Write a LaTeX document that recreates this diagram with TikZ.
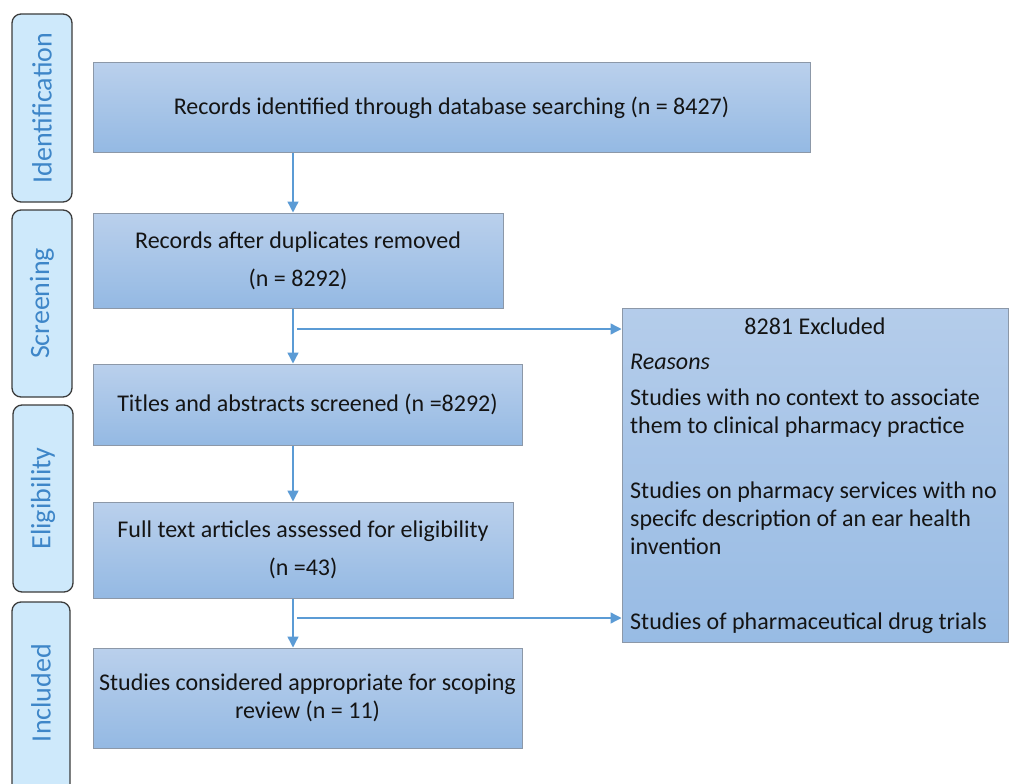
\documentclass[tikz,border=0pt]{standalone}
\usepackage{fontspec}
\setmainfont{Carlito}
\usetikzlibrary{arrows.meta,calc}
\definecolor{boxtop}{RGB}{186,208,236}
\definecolor{boxbot}{RGB}{148,185,227}
\definecolor{boxline}{RGB}{140,152,168}
\definecolor{sidefill}{RGB}{206,233,251}
\definecolor{sideline}{RGB}{60,60,60}
\definecolor{sidetext}{RGB}{62,134,200}
\definecolor{arrowblue}{RGB}{91,155,213}
\definecolor{txt}{RGB}{20,20,20}
\tikzset{
  flowbox/.style={draw=boxline, line width=1pt, rectangle, top color=boxtop, bottom color=boxbot,
     text=txt, align=center, inner sep=0pt, font=\fontsize{24}{28}\selectfont},
  exbox/.style={draw=boxline, line width=1pt, rectangle, top color=boxtop!85!boxbot, bottom color=boxbot!90!boxtop,
     inner sep=0pt},
  extext/.style={anchor=west, text=txt, inner sep=0pt, font=\fontsize{24}{28}\selectfont},
  sidebox/.style={draw=sideline, line width=1.3pt, fill=sidefill, rounded corners=9pt, rectangle, inner sep=0pt},
  sidelabel/.style={text=sidetext, rotate=90, font=\fontsize{28}{32}\selectfont, inner sep=0pt},
  arr/.style={draw=arrowblue, line width=1.4pt, -{Triangle[length=11pt,width=11pt]}},
}
\begin{document}
\begin{tikzpicture}[x=1pt,y=-1pt]
\useasboundingbox (0,0) rectangle (1010,784);
\fill[white] (0,0) rectangle (1010,784);

% side stage boxes
\node[sidebox, minimum width=60pt, minimum height=188pt] (sid) at (42,108) {};
\node[sidelabel] (lid) at (sid.center) {Identification};
\node[sidebox, minimum width=60pt, minimum height=187pt] (ssc) at (42,303.5) {};
\node[sidelabel] (lsc) at (ssc.center) {Screening};
\node[sidebox, minimum width=60pt, minimum height=187pt] (sel) at (43,498.5) {};
\node[sidelabel] (lel) at (sel.center) {Eligibility};
\begin{scope}
\clip (0,590) rectangle (120,784);
\node[sidebox, minimum width=58pt, minimum height=200pt] (sin) at (41,702) {};
\end{scope}
\node[sidelabel] (lin) at (41,693) {Included};

% main flow boxes
\node[flowbox, minimum width=717pt, minimum height=89pt] (b1) at (451.5,107.5)
  {Records identified through database searching (n = 8427)};
\node[flowbox, minimum width=410pt, minimum height=95pt] (b2) at (298,260.5)
  {Records after duplicates removed\\[10pt](n = 8292)};
\node[flowbox, minimum width=429pt, minimum height=81pt] (b3) at (307.5,404.5)
  {Titles and abstracts screened (n =8292)};
\node[flowbox, minimum width=420pt, minimum height=96pt] (b4) at (303,550)
  {Full text articles assessed for eligibility\\[10pt](n =43)};
\node[flowbox, minimum width=429pt, minimum height=100pt] (b5) at (307.5,698)
  {Studies considered appropriate for scoping\\review (n = 11)};

% excluded box
\node[exbox, minimum width=386pt, minimum height=334pt] (ex) at (815,475) {};
\node[text=txt, inner sep=0pt, font=\fontsize{24}{28}\selectfont] (ext) at (815,326) {8281 Excluded};
\node[extext] (ex1) at (630,362) {\itshape Reasons};
\node[extext, align=left] (ex2) at (630,413) {Studies with no context to associate\\them to clinical pharmacy practice};
\node[extext, align=left] (ex3) at (630,518) {Studies on pharmacy services with no\\specifc description of an ear health\\invention};
\node[extext] (ex4) at (630,623) {Studies of pharmaceutical drug trials};

% connectors
\coordinate (ax) at (293,0);
\coordinate (j1) at (297,329);
\coordinate (j2) at (297,618);
\draw[arr] (b1.south -| ax) -- (b2.north -| ax);
\draw[arr] (b2.south -| ax) -- (b3.north -| ax);
\draw[arr] (b3.south -| ax) -- (b4.north -| ax);
\draw[arr] (b4.south -| ax) -- (b5.north -| ax);
\draw[arr] (j1) -- (j1 -| ex.west);
\draw[arr] (j2) -- (j2 -| ex.west);
\end{tikzpicture}
\end{document}
